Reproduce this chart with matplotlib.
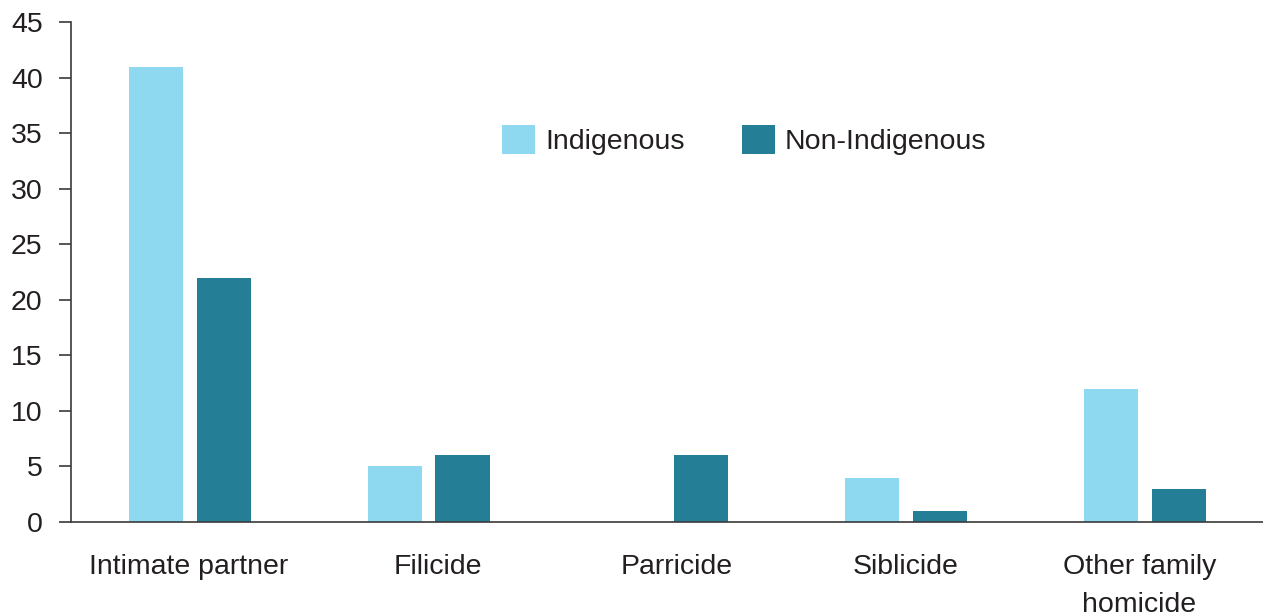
import matplotlib.pyplot as plt
import matplotlib.transforms as mtransforms
import numpy as np

plt.rcParams['font.family'] = ['Liberation Sans', 'DejaVu Sans']

categories = ['Intimate partner', 'Filicide', 'Parricide', 'Siblicide', 'Other family\nhomicide']
indigenous = [41, 5, 0, 4, 12]
non_indigenous = [22, 6, 6, 1, 3]

# small horizontal nudges (points) for the category labels
label_nudge = [-0.7, 6.5, 6.5, 0.0, -4.0]

light = '#8ed8f0'
dark = '#237e96'
axis_grey = '#3a3a3a'
text_col = '#231f20'
fs = 20.5

fig = plt.figure(figsize=(12.63, 6.14), dpi=100)
ax = fig.add_axes([0.0559, 0.1498, 0.945, 0.8142])

x = np.arange(len(categories))
w = 0.227
off = 0.142
ax.bar(x - off, indigenous, w, color=light, label='Indigenous')
ax.bar(x + off, non_indigenous, w, color=dark, label='Non-Indigenous')

ax.set_xlim(-0.5, len(categories) - 0.5)
ax.set_ylim(0, 45)
ax.set_yticks(range(0, 46, 5))
ax.set_xticks(x)
ax.set_xticklabels(categories, fontsize=fs, color=text_col, linespacing=1.58)
ax.tick_params(axis='x', length=0, pad=23)
ax.tick_params(axis='y', length=8.6, width=1.2, color=axis_grey, labelsize=fs,
               labelcolor=text_col, pad=11.5)

for lab, dx in zip(ax.get_xticklabels(), label_nudge):
    shift = mtransforms.ScaledTranslation(dx / 72, 0, fig.dpi_scale_trans)
    lab.set_transform(lab.get_transform() + shift)

for side in ['top', 'right']:
    ax.spines[side].set_visible(False)
for side in ['left', 'bottom']:
    ax.spines[side].set_color(axis_grey)
    ax.spines[side].set_linewidth(1.2)

ax.legend(loc='center left', bbox_to_anchor=(0.3615, 0.764), ncol=2, frameon=False,
          fontsize=fs, handlelength=1.16, handleheight=1.16, handletextpad=0.35,
          columnspacing=2.0, labelcolor=text_col, borderpad=0, borderaxespad=0)

fig.savefig('out.png', dpi=100)
